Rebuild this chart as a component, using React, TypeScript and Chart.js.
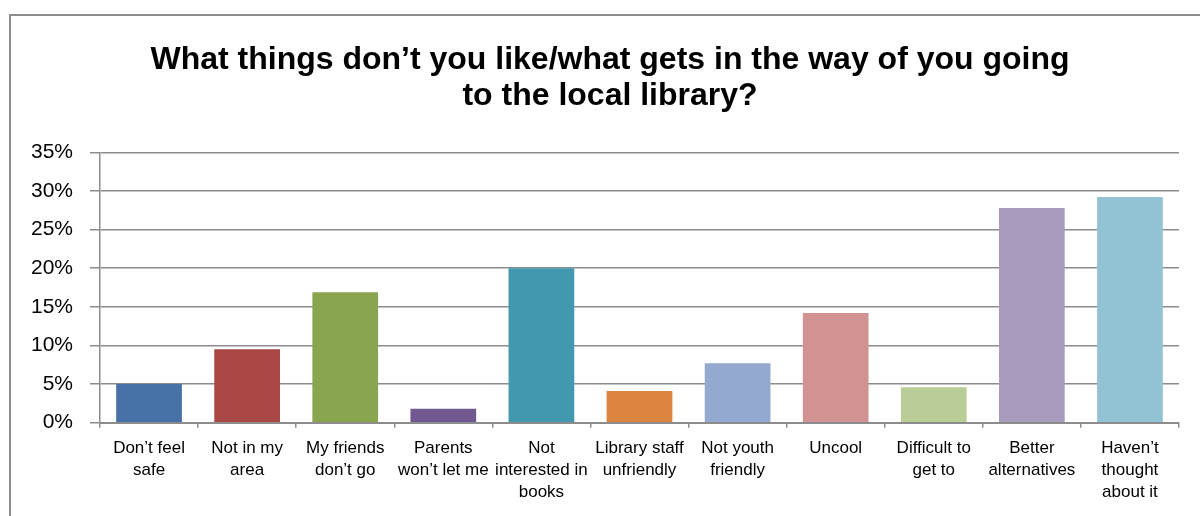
import React, { useEffect, useRef } from "react";
import { Chart, registerables } from "chart.js";

Chart.register(...registerables);

const categories: string[][] = [
  ["Don’t feel", "safe"],
  ["Not in my", "area"],
  ["My friends", "don’t go"],
  ["Parents", "won’t let me"],
  ["Not", "interested in", "books"],
  ["Library staff", "unfriendly"],
  ["Not youth", "friendly"],
  ["Uncool"],
  ["Difficult to", "get to"],
  ["Better", "alternatives"],
  ["Haven’t", "thought", "about it"],
];

const values: number[] = [5.0, 9.5, 16.9, 1.8, 20.0, 4.1, 7.7, 14.2, 4.6, 27.8, 29.2];

const barColors: string[] = [
  "#4672A8",
  "#A94744",
  "#89A54E",
  "#71588F",
  "#4198AF",
  "#DB843D",
  "#93A9CF",
  "#D19392",
  "#B9CD96",
  "#A99BBD",
  "#92C3D4",
];

const titleLines: string[] = [
  "What things don’t you like/what gets in the way of you going",
  "to the local library?",
];

const yMax = 35;
const yStep = 5;

export default function App() {
  const canvasRef = useRef<HTMLCanvasElement | null>(null);

  useEffect(() => {
    if (!canvasRef.current) return;
    const gridColor = "#8c8c8c";
    const chart = new Chart(canvasRef.current, {
      type: "bar",
      data: {
        labels: categories,
        datasets: [
          {
            data: values,
            backgroundColor: barColors,
            borderWidth: 0,
            barPercentage: 0.67,
            categoryPercentage: 1,
          },
        ],
      },
      options: {
        responsive: false,
        animation: false,
        layout: { padding: { left: 0, right: 0, top: 0, bottom: 0 } },
        plugins: {
          legend: { display: false },
          tooltip: { enabled: false },
          title: {
            display: true,
            text: titleLines,
            color: "#000",
            font: { family: "'Liberation Sans', Arial, sans-serif", size: 32, weight: "bold", lineHeight: 1.125 },
            padding: { top: 27, bottom: 38.3 },
          },
        },
        scales: {
          x: {
            afterFit: (scale: any) => {
              scale.height = 93.3;
            },
            grid: {
              display: true,
              drawOnChartArea: false,
              drawTicks: true,
              tickLength: 5,
              offset: true,
              color: gridColor,
              lineWidth: 1.5,
            },
            border: { display: true, color: gridColor, width: 2 },
            ticks: {
              autoSkip: false,
              maxRotation: 0,
              minRotation: 0,
              padding: 10,
              color: "#000",
              font: { family: "'Liberation Sans', Arial, sans-serif", size: 17, lineHeight: 1.294 },
            },
          },
          y: {
            min: 0,
            max: yMax,
            afterFit: (scale: any) => {
              scale.width = 90;
            },
            grid: {
              display: true,
              drawTicks: true,
              tickLength: 10,
              color: gridColor,
              lineWidth: 1.5,
            },
            border: { display: true, color: gridColor, width: 1.5 },
            ticks: {
              stepSize: yStep,
              padding: 17,
              color: "#000",
              font: { family: "'Liberation Sans', Arial, sans-serif", size: 21 },
              callback: (v: any) => `${v}%`,
            },
          },
          spacer: {
            type: "linear",
            position: "right",
            display: true,
            afterFit: (scale: any) => {
              scale.width = 31;
            },
            grid: { display: false, drawTicks: false },
            border: { display: false },
            ticks: { display: false },
          },
        },
      },
    });
    return () => chart.destroy();
  }, []);

  return (
    <div style={{ position: "fixed", left: 0, top: 0, width: 1200, height: 516, overflow: "hidden", background: "#fff" }}>
      <div
        style={{
          position: "absolute",
          left: 9,
          top: 14,
          width: 1300,
          height: 600,
          border: "2px solid #8c8c8c",
          boxSizing: "border-box",
        }}
      />
      <canvas
        ref={canvasRef}
        width={1200}
        height={501}
        style={{ position: "absolute", left: 10, top: 15, width: 1200, height: 501 }}
      />
    </div>
  );
}
